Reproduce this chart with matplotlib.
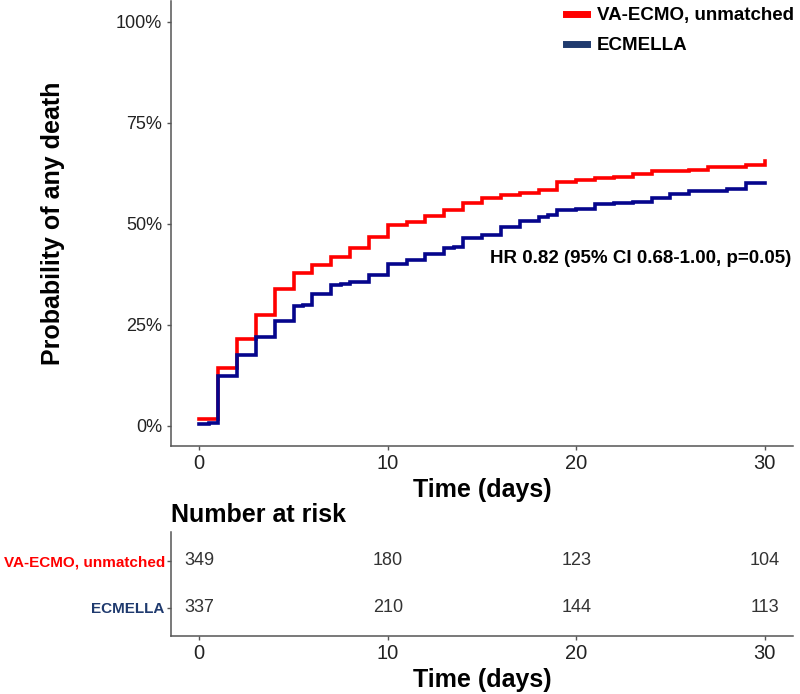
import matplotlib
matplotlib.use("Agg")
import matplotlib.pyplot as plt
from matplotlib.lines import Line2D

plt.rcParams['font.family'] = ['Liberation Sans', 'DejaVu Sans']

# cumulative incidence of death (%), step function
t_ecmo = [0, 1, 2, 3, 4, 5, 6, 7, 8, 9, 10, 11, 12, 13, 14, 15, 16, 17, 18, 19,
          20, 21, 22, 23, 24, 25, 26, 27, 28, 29, 30]
p_ecmo = [1.7, 14.4, 21.6, 27.4, 33.9, 37.7, 39.8, 41.8, 43.9, 46.6, 49.6, 50.5,
          51.9, 53.5, 55.1, 56.4, 57.0, 57.5, 58.4, 60.4, 60.9, 61.3, 61.5, 62.4,
          63.0, 63.0, 63.4, 64.0, 64.0, 64.6, 65.5]

t_ecmella = [0, 0.5, 1, 2, 3, 4, 5, 5.5, 6, 7, 7.5, 8, 9, 10, 11, 12, 13, 13.5, 14,
             15, 16, 17, 18, 18.5, 19, 20, 21, 22, 23, 24, 25, 26, 27, 28, 29, 30]
p_ecmella = [0.4, 0.8, 12.4, 17.4, 22.0, 26.0, 29.7, 30.0, 32.5, 34.8, 35.1, 35.5,
             37.2, 40.0, 41.0, 42.4, 43.9, 44.2, 46.5, 47.2, 49.3, 50.7, 51.7, 52.2,
             53.4, 53.7, 55.0, 55.2, 55.5, 56.4, 57.4, 58.0, 58.0, 58.5, 60.1, 60.1]

groups = ["VA-ECMO, unmatched", "ECMELLA"]
risk_times = [0, 10, 20, 30]
risk_ecmo = [349, 180, 123, 104]
risk_ecmella = [337, 210, 144, 113]

hr_text = "HR 0.82 (95% CI 0.68-1.00, p=0.05)"

red = "#ff0000"
navy = "#05058c"
navy_lbl = "#1f3a6e"
spine_c = "#555555"

fig = plt.figure(figsize=(8, 6.94), dpi=100)

# main KM panel
ax = fig.add_axes([0.21375, 0.35735, 0.7775, 0.6405])
ax.step(t_ecmo, p_ecmo, where='post', color=red, lw=2.6, solid_joinstyle='miter')
ax.step(t_ecmella, p_ecmella, where='post', color=navy, lw=2.6, solid_joinstyle='miter')
ax.set_xlim(-1.5, 31.5)
ax.set_ylim(-5, 105)
ax.set_xticks([0, 10, 20, 30])
ax.set_yticks([0, 25, 50, 75, 100])
ax.set_yticklabels(["0%", "25%", "50%", "75%", "100%"])
ax.tick_params(axis='y', labelsize=13, length=3, width=1, color=spine_c,
               labelcolor='#222222', pad=3.4)
ax.tick_params(axis='x', labelsize=14.5, length=3, width=1, color=spine_c,
               labelcolor='#222222', pad=3)
for s in ['top', 'right']:
    ax.spines[s].set_visible(False)
for s in ['left', 'bottom']:
    ax.spines[s].set_color(spine_c)
    ax.spines[s].set_linewidth(1.1)

ax.text(15.43, 41.5, hr_text, ha='left', va='center', fontsize=13.5,
        fontweight='bold', color='black')

handles = [Line2D([], [], color=red, lw=5), Line2D([], [], color=navy_lbl, lw=5)]
leg = ax.legend(handles, groups, loc='upper left', bbox_to_anchor=(566 / 800, 1 - 7 / 694),
                bbox_transform=fig.transFigure, frameon=False, fontsize=13.5,
                handlelength=1.1, handletextpad=0.55, labelspacing=0.7,
                borderpad=0, borderaxespad=0)
for txt in leg.get_texts():
    txt.set_fontweight('bold')

fig.text(53 / 800, 1 - 223 / 694, "Probability of any death", rotation=90,
         ha='center', va='center', fontsize=18, fontweight='bold')
fig.text(482 / 800, 1 - 490 / 694, "Time (days)", ha='center', va='center',
         fontsize=18, fontweight='bold')

# number at risk table
ax2 = fig.add_axes([0.21375, 0.08357, 0.7775, 0.1494])
ax2.set_xlim(-1.5, 31.5)
ax2.set_ylim(0.4, 2.6)
for t, n in zip(risk_times, risk_ecmo):
    ax2.text(t, 2, str(n), ha='center', va='center', fontsize=13, color='#333333')
for t, n in zip(risk_times, risk_ecmella):
    ax2.text(t, 1, str(n), ha='center', va='center', fontsize=13, color='#333333')
ax2.set_xticks([0, 10, 20, 30])
ax2.set_yticks([2, 1])
ax2.set_yticklabels(groups)
for lbl, c in zip(ax2.get_yticklabels(), [red, navy_lbl]):
    lbl.set_color(c)
    lbl.set_fontweight('bold')
ax2.tick_params(axis='y', labelsize=11, length=3, width=1, color=spine_c, pad=1.5)
ax2.tick_params(axis='x', labelsize=14.5, length=3, width=1, color=spine_c,
                labelcolor='#222222', pad=3)
for s in ['top', 'right']:
    ax2.spines[s].set_visible(False)
for s in ['left', 'bottom']:
    ax2.spines[s].set_color(spine_c)
    ax2.spines[s].set_linewidth(1.1)

fig.text(171 / 800, 1 - 515 / 694, "Number at risk", ha='left', va='center',
         fontsize=18, fontweight='bold')
fig.text(482 / 800, 1 - 680 / 694, "Time (days)", ha='center', va='center',
         fontsize=18, fontweight='bold')

fig.savefig("out.png", dpi=100)
